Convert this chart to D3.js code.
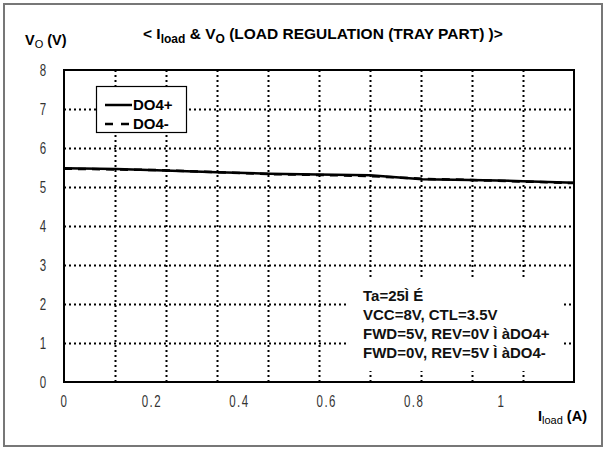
<!DOCTYPE html>
<html><head><meta charset="utf-8">
<script src="https://cdnjs.cloudflare.com/ajax/libs/d3/7.8.5/d3.min.js"></script>
<style>
html,body{margin:0;padding:0;background:#fff;}
svg{display:block;}
text{font-family:"Liberation Sans",Arial,sans-serif;}
</style></head><body>
<svg id="c" width="606" height="450"></svg>
<script>
// ---- data ----
const loadCurrent = [0, 0.12, 0.23, 0.35, 0.47, 0.58, 0.70, 0.82, 0.93, 1.05, 1.167];
const voutPlus  = [5.48, 5.46, 5.42, 5.38, 5.34, 5.32, 5.30, 5.20, 5.18, 5.15, 5.11];
const voutMinus = [5.47, 5.45, 5.43, 5.38, 5.33, 5.31, 5.28, 5.21, 5.18, 5.14, 5.10];
const seriesNames = ["DO4+", "DO4-"];
const xTickValues = [0, 0.2, 0.4, 0.6, 0.8, 1];
const xTickLabels = ["0", "0.2", "0.4", "0.6", "0.8", "1"];
const yTickValues = [0, 1, 2, 3, 4, 5, 6, 7, 8];
const xMax = 1.167, yMax = 8;
const noteLines = ["Ta=25Ì É", "VCC=8V, CTL=3.5V", "FWD=5V, REV=0V Ì  àDO4+", "FWD=0V, REV=5V Ì  àDO4-"];

const tickFont = '"DejaVu Sans","Liberation Sans",sans-serif';
const svg = d3.select("#c");
const L = 64, R = 574, T = 70, B = 382;
const x = d3.scaleLinear().domain([0, xMax]).range([L, R]);
const y = d3.scaleLinear().domain([0, yMax]).range([B, T]);

// outer frame
svg.append("rect").attr("x", 4).attr("y", 4).attr("width", 598).attr("height", 442)
  .attr("fill", "none").attr("stroke", "#777").attr("stroke-width", 2);

// gridlines
const g = svg.append("g");
const vGrid = d3.range(1, 10).map(i => xMax * i / 10);
g.selectAll(".vg").data(vGrid).join("line")
  .attr("x1", d => Math.round(x(d)) + 0.5).attr("x2", d => Math.round(x(d)) + 0.5)
  .attr("y1", T).attr("y2", B)
  .attr("stroke", "#000").attr("stroke-width", 2).attr("stroke-dasharray", "2,3");
g.selectAll(".hg").data(yTickValues.slice(1, -1)).join("line")
  .attr("x1", L).attr("x2", R)
  .attr("y1", d => Math.round(y(d)) + 0.5).attr("y2", d => Math.round(y(d)) + 0.5)
  .attr("stroke", "#000").attr("stroke-width", 2).attr("stroke-dasharray", "2,3");

// plot border
svg.append("rect").attr("x", L).attr("y", T).attr("width", R - L).attr("height", B - T)
  .attr("fill", "none").attr("stroke", "#000").attr("stroke-width", 2);

// tick labels
const yAxis = d3.axisLeft(y).tickValues(yTickValues).tickSize(0).tickPadding(0);
const ya = svg.append("g").attr("transform", `translate(${L - 21},0)`).call(yAxis);
ya.select(".domain").remove();
ya.selectAll("text").attr("font-size", 16).attr("fill", "#333").attr("font-weight", 300)
  .attr("text-anchor", "middle").attr("font-family", tickFont).attr("transform", "scale(0.72,1)");

const xAxis = d3.axisBottom(x).tickValues(xTickValues).tickFormat((d, i) => xTickLabels[i]).tickSize(0).tickPadding(0);
const xa = svg.append("g").attr("transform", `translate(0,${B + 14})`).call(xAxis);
xa.select(".domain").remove();
xa.selectAll("text").attr("font-size", 16).attr("fill", "#333").attr("font-weight", 300)
  .attr("font-family", tickFont).attr("transform", "scale(0.72,1)").attr("letter-spacing", 2);

// annotation box
svg.append("rect").attr("x", 348).attr("y", 280).attr("width", 215).attr("height", 91).attr("fill", "#fff");
svg.append("g").selectAll("text").data(noteLines).join("text")
  .attr("x", 363).attr("y", (d, i) => 301 + i * 19)
  .attr("font-size", 15).attr("font-weight", "bold").attr("fill", "#111").text(d => d);

// lines
const lineGen = d3.line().x((d, i) => x(loadCurrent[i])).y(d => y(d));
svg.append("path").datum(voutPlus).attr("d", lineGen)
  .attr("fill", "none").attr("stroke", "#000").attr("stroke-width", 2.5);
svg.append("path").datum(voutMinus).attr("d", lineGen)
  .attr("fill", "none").attr("stroke", "#000").attr("stroke-width", 2.5).attr("stroke-dasharray", "8,6");

// legend
svg.append("rect").attr("x", 96.5).attr("y", 86.5).attr("width", 90).attr("height", 46)
  .attr("fill", "#fff").attr("stroke", "#000").attr("stroke-width", 1.2);
const leg = svg.append("g");
seriesNames.forEach((n, i) => {
  const yy = 105 + i * 19;
  leg.append("line").attr("x1", 105).attr("x2", 132).attr("y1", yy).attr("y2", yy)
    .attr("stroke", "#000").attr("stroke-width", 2.5).attr("stroke-dasharray", i ? "8,8" : null);
  leg.append("text").attr("x", 133).attr("y", yy + 5).attr("font-size", 15)
    .attr("font-weight", "bold").text(n);
});

// axis titles
const yt = svg.append("text").attr("x", 25).attr("y", 45).attr("font-size", 14.5).attr("font-weight", "bold");
yt.append("tspan").text("V");
yt.append("tspan").attr("dy", 3).attr("font-size", 11).attr("font-weight", "normal").text("O");
yt.append("tspan").attr("dy", -3).text(" (V)");

const tt = svg.append("text").attr("x", 143).attr("y", 39).attr("font-size", 15.5).attr("font-weight", "bold");
tt.append("tspan").text("< I");
tt.append("tspan").attr("dy", 4).attr("font-size", 12).text("load");
tt.append("tspan").attr("dy", -4).text(" & V");
tt.append("tspan").attr("dy", 4).attr("font-size", 12).text("O");
tt.append("tspan").attr("dy", -4).text(" (LOAD REGULATION (TRAY PART) )>");

const xt = svg.append("text").attr("x", 538).attr("y", 421).attr("font-size", 14.5).attr("font-weight", "bold");
xt.append("tspan").text("I");
xt.append("tspan").attr("dy", 3).attr("font-size", 11).attr("font-weight", "normal").text("load");
xt.append("tspan").attr("dy", -3).text(" (A)");
</script>
</body></html>
